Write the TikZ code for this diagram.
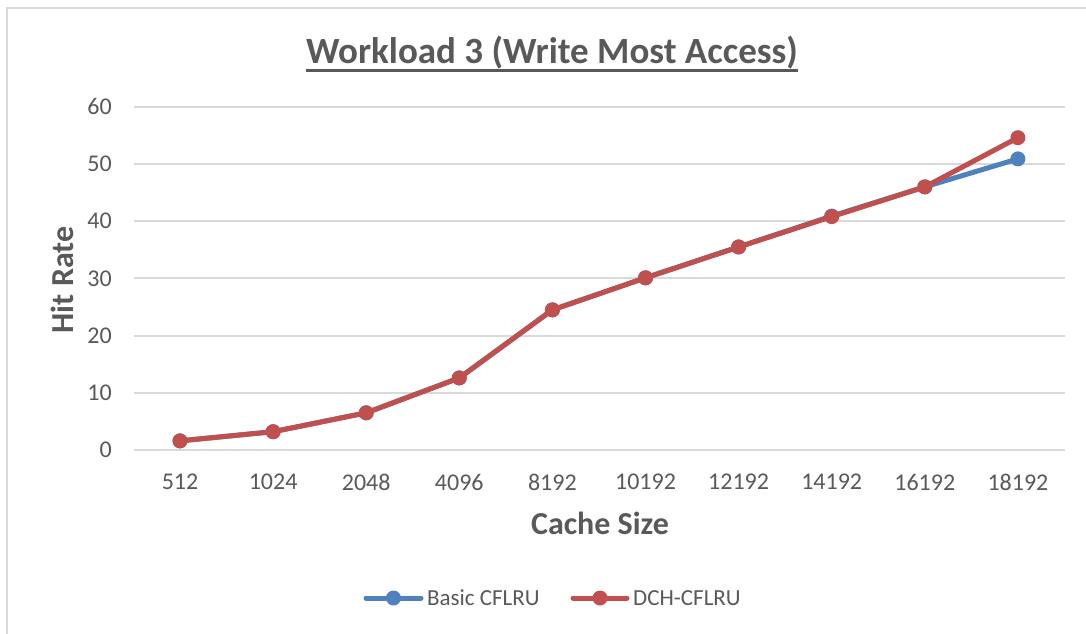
\documentclass[tikz,border=0pt]{standalone}
\usepackage{fontspec}
\setmainfont{Carlito}
\usetikzlibrary{positioning,calc}
\definecolor{basicblue}{HTML}{4F81BD}
\definecolor{dchred}{HTML}{C0504D}
\definecolor{txtgray}{HTML}{595959}
\definecolor{gridgray}{HTML}{D9D9D9}
\tikzstyle{dot} = [circle, minimum size=15pt, inner sep=0pt]
\tikzstyle{series} = [line width=5pt, line join=round, line cap=round]
\tikzstyle{ticklbl} = [font=\fontsize{24}{28}\selectfont, text=txtgray, inner sep=0pt]
\tikzstyle{axistitle} = [font=\bfseries\fontsize{32}{36}\selectfont, text=txtgray, inner sep=0pt]
\tikzstyle{legtext} = [font=\fontsize{23}{27}\selectfont, text=txtgray, inner sep=0pt]

\begin{document}
\begin{tikzpicture}[x=1pt,y=-1pt]
			\useasboundingbox (0,0) rectangle (1086,633);
			\draw[gridgray,line width=2pt] (7,660) -- (7,8) -- (1110,8);
			\foreach \v in {0,...,6}{
				\draw[gridgray,line width=2pt] (134,{450-57.2*\v}) -- (1065,{450-57.2*\v});
				\node[ticklbl,anchor=east] (ylbl\v) at (112,{450-57.2*\v}) {\pgfmathparse{int(10*\v)}\pgfmathresult};
			}
			\foreach \n/\b/\r [count=\i] in {512/1.6/1.6,1024/3.2/3.2,2048/6.5/6.5,4096/12.6/12.6,8192/24.5/24.5,10192/30.1/30.1,12192/35.5/35.5,14192/40.9/40.8,16192/46.0/46.0,18192/50.9/54.6}{
				\coordinate (b\i) at ({180+93.1*(\i-1)},{450-5.72*\b});
				\coordinate (r\i) at ({180+93.1*(\i-1)},{450-5.72*\r});
				\node[ticklbl] (xlbl\i) at ({180+93.1*(\i-1)},482) {\n};
			}
			\draw[series,basicblue] (b1) \foreach \i in {2,...,10}{ -- (b\i)};
			\foreach \i in {1,...,10} \node[dot,fill=basicblue] (bdot\i) at (b\i) {};
			\draw[series,dchred] (r1) \foreach \i in {2,...,10}{ -- (r\i)};
			\foreach \i in {1,...,10} \node[dot,fill=dchred] (rdot\i) at (r\i) {};
			\node[font=\bfseries\fontsize{37}{42}\selectfont,text=txtgray,inner sep=0pt,anchor=base] (title) at (552,63) {Workload 3 (Write Most Access)};
			\draw[txtgray,line width=3pt] ([yshift=-7pt]title.base west) -- ([yshift=-7pt]title.base east);
			\node[axistitle] (xtitle) at (600,523) {Cache Size};
			\node[axistitle,rotate=90] (ytitle) at (62,280) {Hit Rate};
			\node[legtext,anchor=west] (legb) at (427,598) {Basic CFLRU};
			\node[legtext,anchor=west] (legr) at (633,598) {DCH-CFLRU};
			\coordinate (legbstart) at (366,598);
			\coordinate (legrstart) at (573,598);
			\draw[line width=5pt,line cap=round,basicblue] (legbstart) -- ([xshift=-6pt]legb.west);
			\node[dot,fill=basicblue] (legbdot) at ($(legbstart)!0.5!([xshift=-6pt]legb.west)$) {};
			\draw[line width=5pt,line cap=round,dchred] (legrstart) -- ([xshift=-6pt]legr.west);
			\node[dot,fill=dchred] (legrdot) at ($(legrstart)!0.5!([xshift=-6pt]legr.west)$) {};
		\end{tikzpicture}
\end{document}
